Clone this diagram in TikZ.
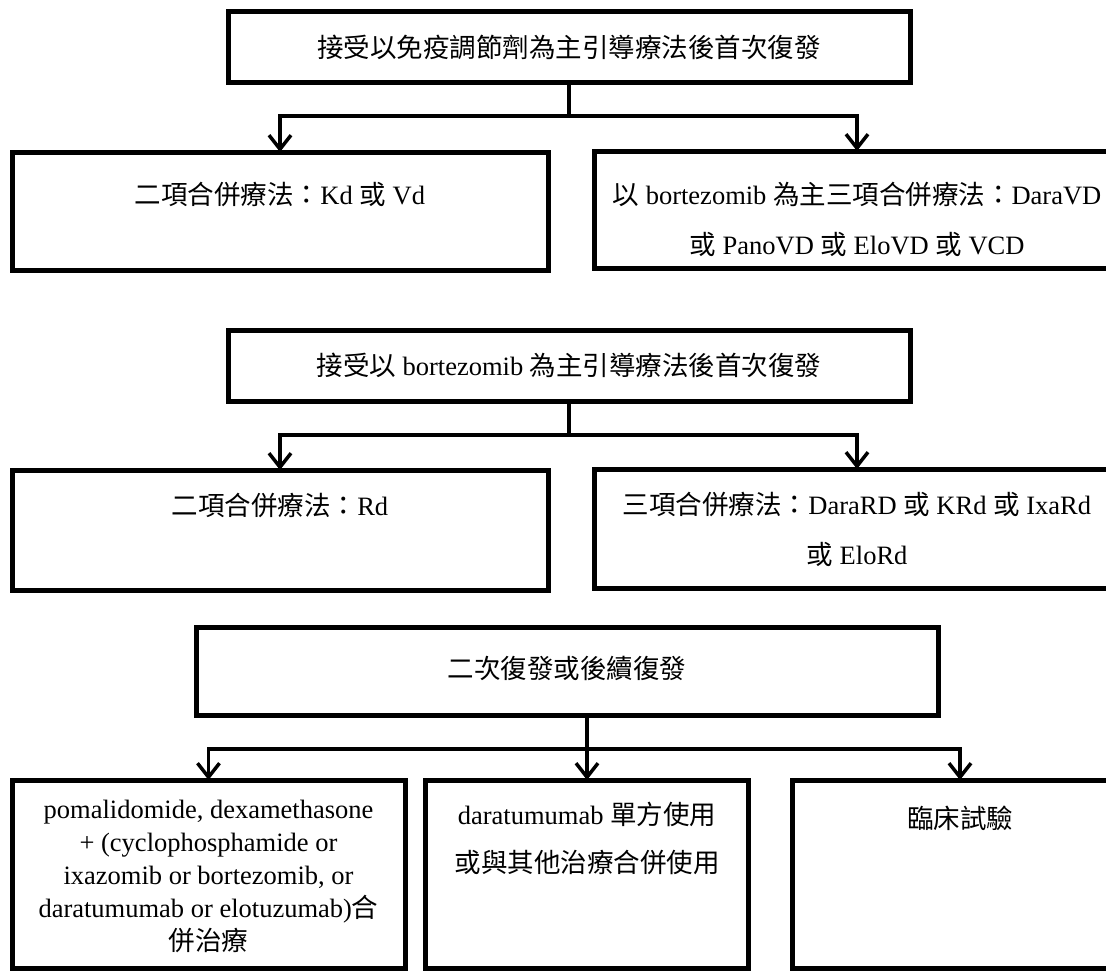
\documentclass[tikz,border=0pt]{standalone}
\usepackage{fontspec}
\setmainfont{Liberation Serif}
\newfontfamily\cjk{Noto Sans CJK TC}
\usetikzlibrary{arrows.meta}
\begin{document}
\begin{tikzpicture}[x=1pt,y=-1pt,
  box/.style={draw, line width=5pt, rectangle, inner sep=0pt, outer sep=0pt},
  txt/.style={inner sep=0pt, align=center, font=\fontsize{26.5}{33}\selectfont},
  wide/.style={font=\fontsize{26.5}{50}\selectfont},
  conn/.style={line width=3.5pt},
  arr/.style={conn, -{Straight Barb[length=14pt,width=22pt]}}
]
\useasboundingbox (0,0) rectangle (1106,972);
\clip (0,0) rectangle (1106,972);

% boxes
\node[box, minimum width=682pt, minimum height=71pt] (b1) at (569,46.5) {};
\node[box, minimum width=536pt, minimum height=118pt] (b2) at (280,211) {};
\node[box, minimum width=526pt, minimum height=117pt] (b3) at (857,209.5) {};
\node[box, minimum width=682pt, minimum height=71pt] (b4) at (569,365.5) {};
\node[box, minimum width=536pt, minimum height=120pt] (b5) at (280,530) {};
\node[box, minimum width=526pt, minimum height=119pt] (b6) at (857,528.5) {};
\node[box, minimum width=742pt, minimum height=88pt] (b7) at (567,671) {};
\node[box, minimum width=393pt, minimum height=188pt] (b8) at (208.5,874) {};
\node[box, minimum width=323pt, minimum height=188pt] (b9) at (587,874) {};
\node[box, minimum width=336pt, minimum height=188pt] (b10) at (960,874) {};

% texts
\node[txt] (t1) at (569,47) {{\cjk 接受以免疫調節劑為主引導療法後首次復發}};
\node[txt] (t2) at (280,194) {{\cjk 二項合併療法：}Kd {\cjk 或} Vd};
\node[txt, wide] (t3) at (857,219) {{\cjk 以} bortezomib {\cjk 為主三項合併療法：}DaraVD\\{\cjk 或} PanoVD {\cjk 或} EloVD {\cjk 或} VCD};
\node[txt] (t4) at (569,365) {{\cjk 接受以} bortezomib {\cjk 為主引導療法後首次復發}};
\node[txt] (t5) at (280,505) {{\cjk 二項合併療法：}Rd};
\node[txt, wide] (t6) at (857,529) {{\cjk 三項合併療法：}DaraRD {\cjk 或} KRd {\cjk 或} IxaRd\\{\cjk 或} EloRd};
\node[txt] (t7) at (567,668) {{\cjk 二次復發或後續復發}};
\node[txt] (t8) at (208.5,876) {pomalidomide, dexamethasone\\+ (cyclophosphamide or\\ixazomib or bortezomib, or\\daratumumab or elotuzumab){\cjk 合}\\{\cjk 併治療}};
\node[txt, font=\fontsize{26.5}{48}\selectfont] (t9) at (587,838) {daratumumab {\cjk 單方使用}\\{\cjk 或與其他治療合併使用}};
\node[txt] (t10) at (960,818) {{\cjk 臨床試驗}};

% connectors
\coordinate (j1) at (569,116);
\draw[conn] (b1.south) -- (j1);
\draw[arr] (j1) -| (b2.north);
\draw[arr] (j1) -| (b3.north);

\coordinate (j2) at (569,435);
\draw[conn] (b4.south) -- (j2);
\draw[arr] (j2) -| (b5.north);
\draw[arr] (j2) -| (b6.north);

\coordinate (j3) at (587,749);
\draw[conn] (b7.south -| j3) -- (j3);
\draw[arr] (j3) -- (b9.north);
\draw[arr] (j3) -| (b8.north);
\draw[arr] (j3) -| (b10.north);
\end{tikzpicture}
\end{document}
